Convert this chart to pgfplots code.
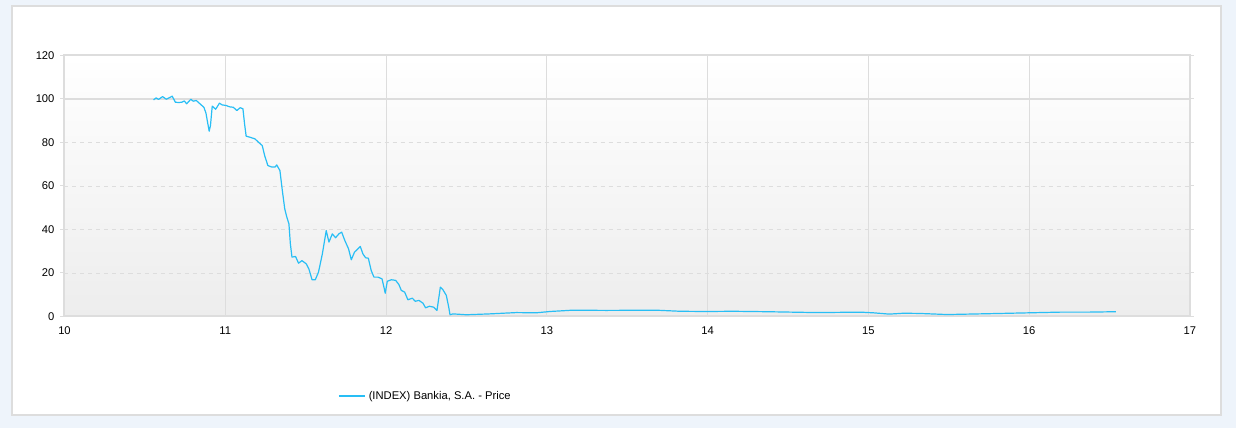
\documentclass[border=0pt]{standalone}
\usepackage{fontspec}
\setmainfont{Liberation Sans}
\usepackage{pgfplots}
\pgfplotsset{compat=1.18}
\definecolor{pagebg}{HTML}{EEF4FB}
\definecolor{panelborder}{HTML}{DDDDDD}
\definecolor{gridc}{HTML}{DDDDDD}
\definecolor{linec}{HTML}{28BEF5}
\definecolor{plotbottom}{HTML}{EDEDED}

\pgfplotstableread{
x y
10.554 99.6
10.57 100.5
10.585 99.8
10.61 101.1
10.633 99.9
10.65 100.5
10.67 101.3
10.69 98.5
10.71 98.4
10.73 98.5
10.745 99.1
10.76 97.8
10.786 99.9
10.80 99.0
10.82 99.3
10.85 97.3
10.867 96.2
10.88 93.5
10.89 89.3
10.90 85.2
10.908 87.8
10.919 96.7
10.927 96.2
10.94 95.3
10.948 96.2
10.964 98.1
10.98 97.3
11.006 97.0
11.027 96.4
11.05 96.2
11.072 94.7
11.093 96.0
11.11 95.5
11.12 88.6
11.13 82.9
11.15 82.5
11.184 81.7
11.213 79.7
11.23 78.6
11.245 74.0
11.265 69.4
11.29 68.7
11.31 68.7
11.32 69.7
11.34 67.1
11.355 57.9
11.37 49.5
11.383 45.7
11.396 42.6
11.405 33.4
11.415 27.3
11.437 27.6
11.456 24.5
11.477 25.7
11.504 24.2
11.52 21.9
11.54 16.9
11.56 16.9
11.58 20.4
11.604 28.8
11.628 39.5
11.645 34.2
11.666 38.0
11.686 36.2
11.707 38.0
11.724 38.8
11.744 34.9
11.767 31.1
11.784 26.1
11.804 29.6
11.84 32.2
11.856 28.8
11.873 27.0
11.89 26.8
11.908 21.1
11.925 18.1
11.95 18.1
11.975 17.3
11.987 13.5
11.995 10.7
12.008 16.2
12.033 16.9
12.06 16.6
12.08 14.7
12.095 12.0
12.116 11.2
12.136 7.7
12.164 8.4
12.182 7.0
12.205 7.4
12.23 6.1
12.246 4.0
12.27 4.7
12.296 4.3
12.317 2.8
12.338 13.5
12.354 12.3
12.375 9.7
12.39 4.3
12.398 0.8
12.416 1.2
12.5 0.8
12.645 1.2
12.81 1.8
12.935 1.7
13.02 2.3
13.16 2.9
13.37 2.8
13.68 2.9
13.83 2.4
13.99 2.3
14.16 2.4
14.37 2.2
14.68 1.8
14.95 2.0
15.03 1.7
15.13 1.1
15.22 1.5
15.32 1.4
15.49 0.9
15.69 1.2
15.82 1.4
16.005 1.7
16.19 2.0
16.36 2.0
16.54 2.2
}\pricedata

\begin{document}
\begin{tikzpicture}
% page background and white panel (1 px of the reference = 0.75pt)
\fill[pagebg] (0pt,0pt) rectangle (927pt,321pt);
\filldraw[fill=white, draw=panelborder, line width=0.9pt] (9pt,9.75pt) rectangle (915.75pt,316.5pt);
\begin{axis}[
  at={(48.375pt,83.625pt)}, anchor=south west,
  scale only axis,
  width=844pt, height=195.75pt,
  xmin=10, xmax=17, ymin=0, ymax=120,
  xtick={10,...,17}, ytick={0,20,...,120},
  axis background/.style={top color=white, bottom color=plotbottom},
  axis line style={draw=panelborder, line width=1.5pt},
  xmajorgrids, ymajorgrids,
  x grid style={draw=gridc, line width=0.75pt},
  y grid style={draw=gridc, dashed, line width=0.5pt},
  tick label style={font=\fontsize{8.4}{10}\selectfont, text=black},
  /pgf/number format/assume math mode=true,
  xtick style={draw=none},
  ytick style={draw=panelborder, line width=0.75pt},
  tick align=outside, major tick length=3pt,
  yticklabel style={xshift=-1pt},
  xticklabel style={yshift=-1pt},
  legend style={at={(0.243,-0.3046)}, anchor=west, draw=none, fill=none,
    inner xsep=0pt, font=\fontsize{8.4}{10}\selectfont},
  legend cell align=left,
  legend image code/.code={\draw[#1] (0pt,0pt) -- (20pt,0pt);},
]
% solid base-100 reference line
\draw[gridc, line width=0.9pt] (axis cs:10,100) -- (axis cs:17,100);
\addplot[linec, line width=0.9pt, line join=round] table[x=x, y=y] {\pricedata};
\addlegendentry{(INDEX) Bankia, S.A. - Price}
\end{axis}
\end{tikzpicture}
\end{document}
